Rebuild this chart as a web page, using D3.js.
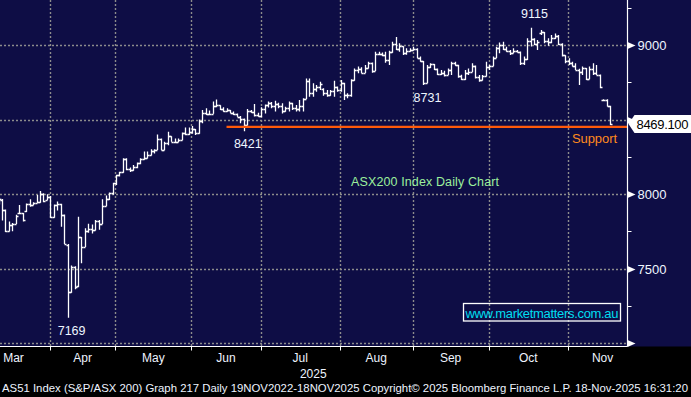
<!DOCTYPE html>
<html>
<head>
<meta charset="utf-8">
<script src="https://cdn.jsdelivr.net/npm/d3@7"></script>
<style>
  body { margin: 0; background: #000; }
  svg { display: block; font-family: "Liberation Sans", Arial, sans-serif; }
</style>
</head>
<body>
<svg id="chart" width="691" height="397"></svg>
<script>
// AS51 daily bars, trading days 10 Mar 2025 -> 18 Nov 2025
const open = [
  7940, 7960, 7893, 7752, 7790, 7800, 7870, 7870, 7885, 7930, 7928, 7942, 7945, 8000, 7960, 7982,
  7843, 7925, 7934, 7859, 7660, 7343, 7510, 7380, 7710, 7646, 7749, 7762, 7759, 7819, 7800, 7921, 7969, 8004, 8071,
  8127, 8145, 8238, 8168, 8160, 8178, 8208, 8232, 8240, 8262, 8290, 8296, 8370, 8296, 8344, 8387, 8352, 8350, 8362, 8407, 8400, 8415,
  8434, 8410, 8490, 8541, 8539, 8540, 8590, 8595, 8570, 8555, 8563, 8545, 8535, 8520, 8505, 8462, 8555, 8550, 8530, 8522,
  8570, 8597, 8610, 8590, 8603, 8590, 8555, 8575, 8610, 8580, 8570, 8590, 8640, 8760, 8680, 8705, 8720, 8705, 8680, 8665, 8690, 8720, 8700,
  8745, 8662, 8665, 8765, 8835, 8840, 8815, 8845, 8880, 8828, 8940, 8942, 8935, 8900, 8950, 9010, 8970, 8990, 8945, 8960, 8965,
  8975, 8915, 8890, 8745, 8850, 8870, 8840, 8805, 8815, 8800, 8835, 8880, 8866, 8790, 8770, 8815, 8820, 8860, 8785, 8765, 8790, 8850,
  8860, 8915, 8980, 9000, 8975, 8960, 8945, 8960, 8955, 8880, 8905, 9030, 9040, 9010, 9080, 9085, 9030, 9020, 9050, 9060, 9010, 8930, 8890,
  8880, 8862, 8835, 8820, 8845, 8775, 8840, 8810, 8800, 8628, 8630, 8590
];
const high = [
  7975, 7966, 7896, 7815, 7805, 7860, 7926, 7872, 7937, 7964, 7945, 7993, 8020, 8005, 7999, 7986,
  7930, 7950, 7935, 7862, 7665, 7520, 7515, 7848, 7712, 7770, 7800, 7795, 7826, 7826, 7965, 7990, 8010, 8075, 8130,
  8150, 8240, 8240, 8178, 8195, 8212, 8240, 8285, 8285, 8300, 8300, 8400, 8373, 8350, 8418, 8388, 8372, 8372, 8412, 8447, 8447, 8456,
  8436, 8500, 8564, 8575, 8560, 8620, 8635, 8596, 8582, 8575, 8564, 8553, 8540, 8523, 8506, 8570, 8564, 8604, 8546, 8582,
  8600, 8620, 8618, 8626, 8613, 8609, 8586, 8620, 8612, 8597, 8631, 8642, 8776, 8776, 8743, 8732, 8754, 8709, 8698, 8698, 8760, 8722, 8765,
  8746, 8676, 8770, 8843, 8855, 8850, 8866, 8888, 8882, 8955, 8955, 8950, 8955, 8962, 9022, 9054, 9011, 8992, 8978, 8978, 8989,
  8978, 8922, 8892, 8866, 8877, 8872, 8843, 8832, 8828, 8843, 8888, 8888, 8868, 8800, 8832, 8843, 8877, 8862, 8799, 8799, 8888, 8866,
  8922, 8989, 9016, 9022, 8989, 8966, 8978, 8966, 8957, 8922, 9045, 9115, 9045, 9034, 9100, 9088, 9045, 9067, 9078, 9067, 9011, 8932, 8911,
  8888, 8877, 8840, 8855, 8846, 8855, 8877, 8866, 8802, 8636, 8636, 8592
];
const low = [
  7930, 7822, 7745, 7748, 7750, 7798, 7868, 7815, 7880, 7915, 7924, 7940, 7942, 7945, 7958, 7840,
  7840, 7890, 7780, 7665, 7169, 7338, 7360, 7375, 7535, 7644, 7740, 7735, 7755, 7760, 7798, 7918, 7960, 7995, 8060,
  8118, 8143, 8160, 8148, 8156, 8172, 8200, 8230, 8238, 8258, 8272, 8295, 8294, 8294, 8328, 8350, 8348, 8347, 8360, 8395, 8396, 8405,
  8396, 8405, 8474, 8530, 8530, 8538, 8582, 8564, 8552, 8552, 8542, 8530, 8518, 8474, 8421, 8460, 8546, 8520, 8518, 8515,
  8541, 8580, 8575, 8553, 8575, 8541, 8552, 8553, 8564, 8553, 8553, 8553, 8638, 8653, 8653, 8687, 8698, 8660, 8653, 8660, 8653, 8687, 8687,
  8631, 8642, 8653, 8760, 8810, 8810, 8812, 8843, 8814, 8826, 8933, 8925, 8881, 8866, 8948, 8966, 8955, 8933, 8935, 8955, 8962,
  8911, 8888, 8731, 8743, 8845, 8832, 8799, 8799, 8788, 8798, 8799, 8860, 8780, 8765, 8765, 8799, 8818, 8776, 8754, 8762, 8788, 8832,
  8858, 8912, 8944, 8966, 8955, 8933, 8944, 8949, 8866, 8866, 8900, 8990, 9000, 8966, 9067, 9011, 8995, 9011, 9040, 9000, 8922, 8877, 8866,
  8855, 8832, 8731, 8799, 8765, 8770, 8799, 8799, 8709, 8622, 8588, 8463
];
const close = [
  7964, 7893, 7752, 7790, 7800, 7855, 7875, 7828, 7930, 7925, 7937, 7945, 8000, 7952, 7982, 7843,
  7925, 7934, 7859, 7667, 7343, 7510, 7375, 7710, 7646, 7749, 7762, 7759, 7819, 7800, 7921, 7969, 8004, 8071, 8127,
  8145, 8238, 8168, 8160, 8178, 8208, 8232, 8240, 8262, 8290, 8296, 8370, 8296, 8344, 8387, 8352, 8350, 8362, 8407, 8400, 8415, 8434,
  8410, 8490, 8541, 8539, 8540, 8590, 8595, 8570, 8555, 8563, 8545, 8535, 8520, 8505, 8462, 8555, 8550, 8530, 8522, 8570,
  8597, 8610, 8590, 8603, 8590, 8555, 8575, 8610, 8580, 8570, 8590, 8635, 8760, 8680, 8705, 8720, 8740, 8680, 8665, 8690, 8720, 8700, 8745,
  8662, 8665, 8765, 8835, 8840, 8815, 8845, 8880, 8828, 8940, 8942, 8935, 8900, 8950, 9010, 8970, 8990, 8945, 8960, 8965, 8975,
  8915, 8890, 8745, 8850, 8870, 8840, 8805, 8815, 8800, 8835, 8880, 8866, 8790, 8770, 8815, 8820, 8860, 8785, 8765, 8790, 8850, 8860,
  8915, 8980, 9000, 8975, 8960, 8945, 8960, 8955, 8880, 8905, 9030, 9040, 9010, 9020, 9085, 9030, 9020, 9050, 9060, 9010, 8930, 8890, 8880,
  8862, 8835, 8820, 8845, 8775, 8840, 8810, 8800, 8715, 8630, 8590, 8469.1
];

// first bar of each month (index into the arrays above; Mar starts before the window, Dec after)
const monthNames = ['Mar', 'Apr', 'May', 'Jun', 'Jul', 'Aug', 'Sep', 'Oct', 'Nov'];
const monthFirstBar = [-5, 16, 35, 57, 77, 100, 121, 143, 166, 186];
const yearLabel = '2025';

const yTicks = [7000, 7500, 8000, 8500, 9000];
const yMinor = [7250, 7750, 8250, 8750, 9250];

const lastPrice = 8469.1;
const supportLevel = 8450;
const supportFrom = 66;

const callouts = [
  { bar: 20, value: 7169, where: 'below' },
  { bar: 71, value: 8421, where: 'below' },
  { bar: 123, value: 8731, where: 'below' },
  { bar: 154, value: 9115, where: 'above' }
];

const W = 691, plotBottom = 346.5, axisX = 627.5;
const svg = d3.select('#chart');

svg.append('rect')
  .attr('width', W).attr('height', plotBottom)
  .attr('fill', '#0e0d45');

const x = d3.scaleLinear().domain([0, close.length - 1]).range([-1.5, 610]);
const y = d3.scaleLinear().domain([7000, 9000]).range([343, 45]);
const monthX = monthFirstBar.map(b => x(b - 1.15));

// grid
const grid = svg.append('g')
  .attr('stroke', '#8c8c8c')
  .attr('stroke-width', 1.4)
  .attr('stroke-dasharray', '2,2');
grid.selectAll('line.h')
  .data(yTicks)
  .enter().append('line')
  .attr('x1', 0).attr('x2', axisX)
  .attr('y1', d => Math.round(y(d)) + 0.5)
  .attr('y2', d => Math.round(y(d)) + 0.5);
grid.selectAll('line.v')
  .data(monthX.filter(v => v > 0 && v < axisX))
  .enter().append('line')
  .attr('x1', d => Math.round(d) + 0.5).attr('x2', d => Math.round(d) + 0.5)
  .attr('y1', 0).attr('y2', plotBottom);

// bars
svg.append('clipPath').attr('id', 'plotclip')
  .append('rect').attr('width', axisX).attr('height', plotBottom);

const bars = svg.append('g')
  .attr('clip-path', 'url(#plotclip)')
  .attr('stroke', '#ffffff')
  .attr('stroke-width', 1.3)
  .attr('fill', 'none');

bars.selectAll('path')
  .data(d3.range(close.length))
  .enter().append('path')
  .attr('d', i => {
    const xc = Math.round(x(i)) + 0.5;
    const yo = Math.round(y(open[i])) + 0.5, yc = Math.round(y(close[i])) + 0.5;
    return `M${xc},${y(high[i])}V${y(low[i])}` +
      `M${xc - 2},${yo}H${xc}` +
      `M${xc},${yc}H${xc + 2}`;
  });

// support line
svg.append('line')
  .attr('x1', x(supportFrom)).attr('x2', axisX)
  .attr('y1', y(supportLevel)).attr('y2', y(supportLevel))
  .attr('stroke', '#ff5a0a')
  .attr('stroke-width', 2.2);

svg.append('text')
  .attr('x', 572).attr('y', y(supportLevel) + 16)
  .attr('font-size', 13)
  .attr('textLength', 45)
  .attr('fill', '#ff8a1c')
  .text('Support');

// callouts
svg.selectAll('text.callout')
  .data(callouts)
  .enter().append('text')
  .attr('x', d => x(d.bar) + 4)
  .attr('y', d => d.where == 'below' ? y(d.value) + 17 : y(d.value) - 9.5)
  .attr('text-anchor', 'middle')
  .attr('font-size', 12.5)
  .attr('fill', '#eef6ff')
  .text(d => d.value);

svg.append('text')
  .attr('x', 351).attr('y', 186)
  .attr('font-size', 12.5)
  .attr('textLength', 148)
  .attr('fill', '#9cf09c')
  .text('ASX200 Index Daily Chart');

svg.append('rect')
  .attr('x', 463.5).attr('y', 303.5)
  .attr('width', 157).attr('height', 17.5)
  .attr('fill', 'none')
  .attr('stroke', '#ffffff')
  .attr('stroke-width', 1.3);
svg.append('text')
  .attr('x', 465.5).attr('y', 317.5)
  .attr('font-size', 13)
  .attr('textLength', 153)
  .attr('fill', '#00def0')
  .text('www.marketmatters.com.au');

// right axis
svg.append('line')
  .attr('x1', axisX).attr('x2', axisX)
  .attr('y1', 0).attr('y2', plotBottom)
  .attr('stroke', '#ffffff').attr('stroke-width', 1.2);

svg.selectAll('line.minor')
  .data(yMinor)
  .enter().append('line')
  .attr('x1', axisX).attr('x2', axisX + 4)
  .attr('y1', d => Math.round(y(d)) + 0.5).attr('y2', d => Math.round(y(d)) + 0.5)
  .attr('stroke', '#ffffff');

svg.selectAll('path.arrow')
  .data(yTicks)
  .enter().append('path')
  .attr('d', d => {
    const yy = Math.round(y(d)) + 0.5;
    return `M${axisX},${yy - 3.5}L${axisX + 8},${yy}L${axisX},${yy + 3.5}Z`;
  })
  .attr('fill', '#ffffff');

// labels hidden by the last-price flag or the bottom edge are left out
svg.selectAll('text.ylab')
  .data(yTicks.filter(d => y(d) > 10 && y(d) < 330 && Math.abs(y(d) - y(lastPrice)) > 14))
  .enter().append('text')
  .attr('x', axisX + 10)
  .attr('y', d => y(d) + 5)
  .attr('font-size', 13)
  .attr('fill', '#eef6ff')
  .text(d => d);

// last price flag
const yl = y(lastPrice);
svg.append('path')
  .attr('d', `M${axisX + 1},${yl}L${axisX + 7},${yl - 9}H${W}V${yl + 9}H${axisX + 7}Z`)
  .attr('fill', '#ffffff');
svg.append('text')
  .attr('x', 636.5).attr('y', yl + 5)
  .attr('font-size', 13)
  .attr('textLength', 52)
  .attr('fill', '#000000')
  .text(d3.format('.3f')(lastPrice));

// bottom axis
svg.append('line')
  .attr('x1', 0).attr('x2', axisX)
  .attr('y1', plotBottom).attr('y2', plotBottom)
  .attr('stroke', '#ffffff').attr('stroke-width', 1.2);

svg.selectAll('line.mtick')
  .data(monthX.filter(v => v > 0 && v < axisX))
  .enter().append('line')
  .attr('x1', d => Math.round(d) + 0.5).attr('x2', d => Math.round(d) + 0.5)
  .attr('y1', plotBottom).attr('y2', plotBottom + 4)
  .attr('stroke', '#ffffff');

svg.selectAll('text.month')
  .data(monthNames)
  .enter().append('text')
  .attr('x', (d, i) => (monthX[i] + monthX[i + 1]) / 2)
  .attr('y', 362)
  .attr('text-anchor', 'middle')
  .attr('font-size', 12)
  .attr('fill', '#eef4ff')
  .text(d => d);

svg.append('text')
  .attr('x', (monthX[4] + monthX[5]) / 2 + 13)
  .attr('y', 378)
  .attr('text-anchor', 'middle')
  .attr('font-size', 12)
  .attr('fill', '#eef4ff')
  .text(yearLabel);

// footer: narrow Bloomberg-style line, stretched vertically a touch
svg.append('text')
  .attr('transform', 'translate(2,392) scale(1,1.14)')
  .attr('font-size', 10.3)
  .attr('textLength', 686)
  .attr('lengthAdjust', 'spacingAndGlyphs')
  .attr('fill', '#eef4ff')
  .text('AS51 Index (S&P/ASX 200) Graph 217 Daily 19NOV2022-18NOV2025  Copyright\u00a9 2025 Bloomberg Finance L.P.  18-Nov-2025 16:31:20');
</script>
</body>
</html>
